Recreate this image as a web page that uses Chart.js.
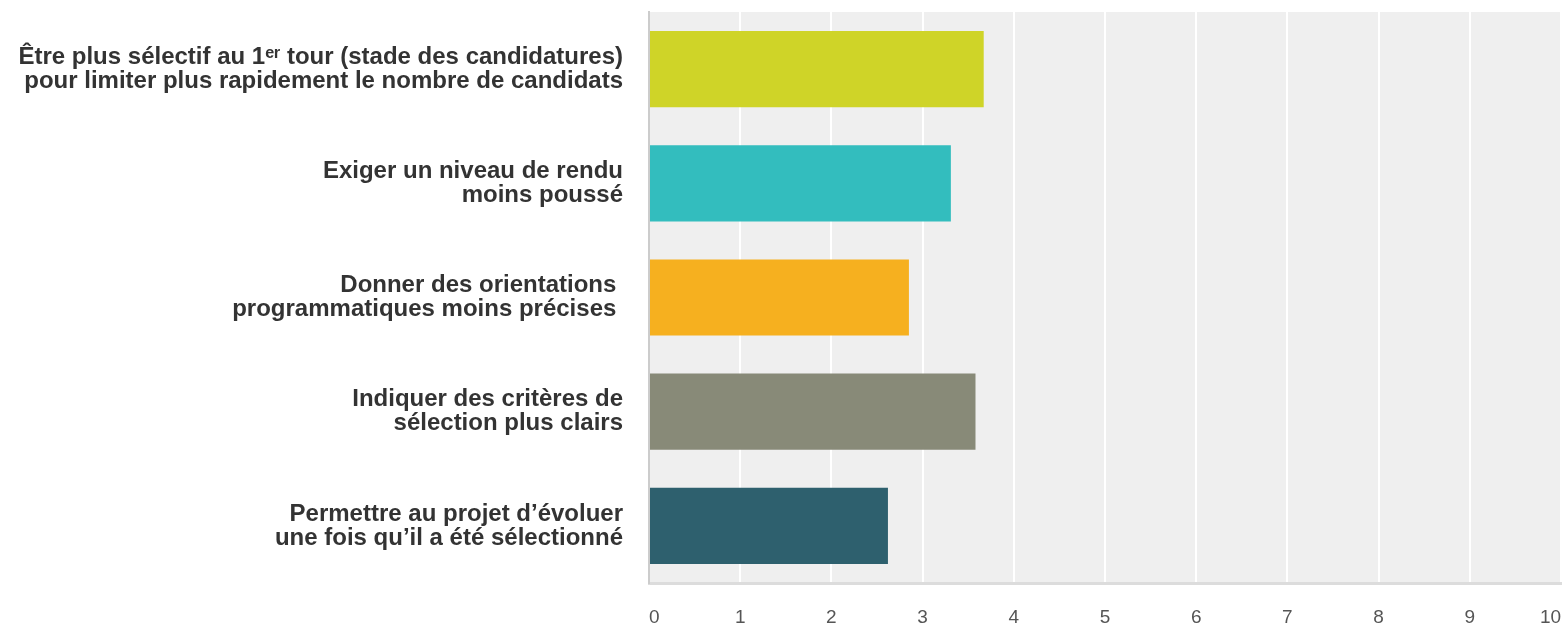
<!DOCTYPE html>
<html>
<head>
<meta charset="utf-8">
<script src="https://cdn.jsdelivr.net/npm/chart.js@4.4.1/dist/chart.umd.min.js"></script>
<style>
html,body{margin:0;padding:0;background:#fff;overflow:hidden;}
#wrap{position:relative;width:1564px;height:627px;}
</style>
</head>
<body>
<div id="wrap"><canvas id="c" width="1564" height="627"></canvas></div>
<script>
const categories = [
  ["Être plus sélectif au 1ᵉʳ tour (stade des candidatures)", "pour limiter plus rapidement le nombre de candidats"],
  ["Exiger un niveau de rendu", "moins poussé"],
  ["Donner des orientations ", "programmatiques moins précises "],
  ["Indiquer des critères de", "sélection plus clairs"],
  ["Permettre au projet d’évoluer", "une fois qu’il a été sélectionné"]
];
const values = [3.67, 3.31, 2.85, 3.58, 2.62];
const barColors = ["#cfd428", "#33bdbe", "#f6b01f", "#888a78", "#2e606e"];
const xTicks = [0, 1, 2, 3, 4, 5, 6, 7, 8, 9, 10];
const xTickLabels = ["  0", "1", "2", "3", "4", "5", "6", "7", "8", "9", "10    "];

const plotBg = {
  id: 'plotBg',
  beforeDraw(chart) {
    const {ctx, chartArea: a} = chart;
    ctx.save();
    ctx.fillStyle = '#efefef';
    ctx.fillRect(a.left, a.top, a.right - a.left, a.bottom - a.top);
    ctx.restore();
  }
};

new Chart(document.getElementById('c'), {
  type: 'bar',
  data: {
    labels: categories,
    datasets: [{
      data: values,
      backgroundColor: barColors,
      borderWidth: 0,
      barPercentage: 0.667,
      categoryPercentage: 1
    }]
  },
  options: {
    indexAxis: 'y',
    responsive: false,
    animation: false,
    layout: { padding: { top: 12, left: 0, right: 0, bottom: 0 } },
    plugins: { legend: { display: false }, tooltip: { enabled: false } },
    scales: {
      x: {
        min: 0, max: 10,
        afterBuildTicks(scale) { scale.ticks = xTicks.map(v => ({ value: v })); },
        afterFit(scale) { scale.paddingLeft = 0; scale.paddingRight = 3; scale.height = 44; },
        grid: { color: '#ffffff', lineWidth: 2, drawTicks: false },
        border: { display: true, color: '#dcdcdc', width: 3 },
        ticks: {
          padding: 25,
          color: '#555555',
          font: { family: 'Liberation Sans', size: 19, lineHeight: 1 },
          callback: (v, i) => xTickLabels[i]
        }
      },
      y: {
        afterFit(scale) { scale.width = 649; scale.paddingTop = 0; scale.paddingBottom = 0; },
        grid: { display: false, drawTicks: false },
        border: { display: true, color: '#cccccc', width: 2 },
        ticks: {
          padding: 26,
          color: '#333333',
          font: { family: 'Liberation Sans', size: 24, weight: 'bold', lineHeight: 1.0 }
        }
      }
    }
  },
  plugins: [plotBg]
});
</script>
</body>
</html>
